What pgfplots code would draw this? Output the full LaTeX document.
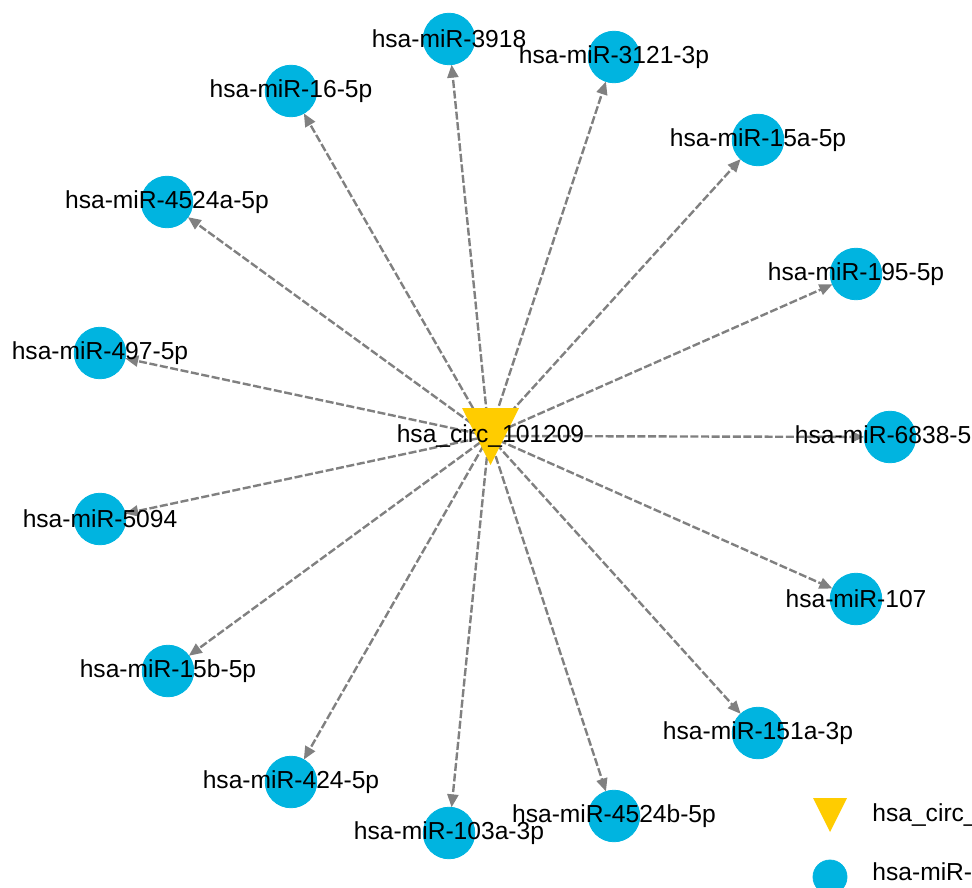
\documentclass[border=0pt]{standalone}
\usepackage{pgfplots}
\pgfplotsset{compat=1.18}
\usepackage{pgfplotstable}
\usepackage{fontspec}
\setmainfont{Liberation Sans}
\usetikzlibrary{arrows.meta}
\definecolor{nodeblue}{HTML}{00B4E0}
\definecolor{circyellow}{HTML}{FFCC00}
\definecolor{edgegray}{HTML}{808080}
\pgfdeclareplotmark{itri}{%
  \pgfpathmoveto{\pgfqpoint{-\pgfplotmarksize}{\pgfplotmarksize}}%
  \pgfpathlineto{\pgfqpoint{\pgfplotmarksize}{\pgfplotmarksize}}%
  \pgfpathlineto{\pgfqpoint{0pt}{-\pgfplotmarksize}}%
  \pgfpathclose
  \pgfusepathqfill}

\pgfplotstableread{
x y label
449 39 hsa-miR-3918
614 57 hsa-miR-3121-3p
291 91 hsa-miR-16-5p
758 140 hsa-miR-15a-5p
167 202 hsa-miR-4524a-5p
856 274 hsa-miR-195-5p
100 353 hsa-miR-497-5p
890 437 hsa-miR-6838-5p
100 519 hsa-miR-5094
856 599 hsa-miR-107
168 671 hsa-miR-15b-5p
758 733 hsa-miR-151a-3p
291 782 hsa-miR-424-5p
614 816 hsa-miR-4524b-5p
449 833 hsa-miR-103a-3p
}\mirnodes

\pgfplotstableread{
x y u v
489 436 -40 -397
489 436 125 -379
489 436 -198 -345
489 436 269 -296
489 436 -322 -234
489 436 367 -162
489 436 -389 -83
489 436 401 1
489 436 -389 83
489 436 367 163
489 436 -321 235
489 436 269 297
489 436 -198 346
489 436 125 380
489 436 -40 397
}\edges

\begin{document}
\begin{tikzpicture}
\path[use as bounding box] (0,0) rectangle (486bp,444bp);
\clip (0,0) rectangle (486bp,444bp);
\begin{axis}[
  at={(0,0)}, anchor=south west,
  width=486bp, height=444bp, scale only axis,
  xmin=0, xmax=972, ymin=0, ymax=888, y dir=reverse,
  hide axis, clip=false,
]
\addplot[quiver={u=\thisrow{u},v=\thisrow{v}},
  edgegray, line width=1.2bp, dash pattern=on 4bp off 1.3bp,
  -{Triangle[length=6.5bp,width=5.5bp]}, shorten >=12.9bp]
  table[x=x,y=y] {\edges};
\addplot[only marks, mark=itri, mark size=14.25bp, color=circyellow,
  point meta=explicit symbolic,
  nodes near coords={hsa\_circ\_101209},
  nodes near coords align={center},
  every node near coord/.append style={font=\fontsize{12.3bp}{14bp}\selectfont, text=black, anchor=center, inner sep=0pt, yshift=0bp}]
  coordinates {(490.5,436.5)};
\addplot[only marks, mark=*, mark size=12.9bp, color=nodeblue, draw=none,
  mark options={draw=none, fill=nodeblue},
  point meta=explicit symbolic,
  nodes near coords={\pgfplotspointmeta},
  nodes near coords align={center},
  every node near coord/.append style={font=\fontsize{12.3bp}{14bp}\selectfont, text=black, anchor=center, inner sep=0pt}]
  table[x=x,y=y,meta=label] {\mirnodes};
% legend
\addplot[only marks, mark=itri, mark size=8.5bp, color=circyellow,
  point meta=explicit symbolic,
  nodes near coords={hsa\_circ\_101209},
  nodes near coords align={center},
  every node near coord/.append style={font=\fontsize{12.3bp}{14bp}\selectfont, text=black, anchor=west, inner sep=0pt, xshift=21bp}]
  coordinates {(830,815)};
\addplot[only marks, mark=*, mark size=8.5bp, color=nodeblue,
  mark options={draw=none, fill=nodeblue},
  point meta=explicit symbolic,
  nodes near coords={hsa-miR-3918},
  nodes near coords align={center},
  every node near coord/.append style={font=\fontsize{12.3bp}{14bp}\selectfont, text=black, anchor=west, inner sep=0pt, xshift=21bp, yshift=2.5bp}]
  coordinates {(830,877)};
\end{axis}
\end{tikzpicture}
\end{document}
